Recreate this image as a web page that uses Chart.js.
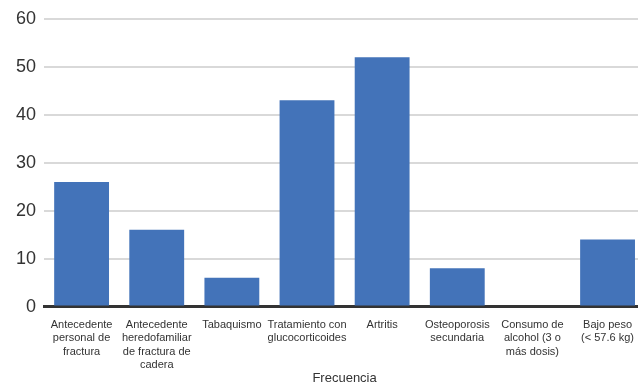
<!DOCTYPE html>
<html>
<head>
<meta charset="utf-8">
<script src="https://cdn.jsdelivr.net/npm/chart.js@4/dist/chart.umd.min.js"></script>
<style>
  html, body { margin: 0; padding: 0; background: #fff; }
  #wrap { width: 638px; height: 384px; position: relative; overflow: hidden; }
  #inner { width: 646px; height: 384px; position: absolute; left: 0; top: 0; }
</style>
</head>
<body>
<div id="wrap"><div id="inner"><canvas id="chart"></canvas></div></div>
<script>
// Factores de riesgo (cada etiqueta dividida en líneas)
const categories = [
  ["Antecedente", "personal de", "fractura"],
  ["Antecedente", "heredofamiliar", "de fractura de", "cadera"],
  ["Tabaquismo"],
  ["Tratamiento con", "glucocorticoides"],
  ["Artritis"],
  ["Osteoporosis", "secundaria"],
  ["Consumo de", "alcohol (3 o", "más dosis)"],
  ["Bajo peso", "(< 57.6 kg)"]
];
const frecuencia = [26, 16, 6, 43, 52, 8, 0, 14];
const yTicks = [0, 10, 20, 30, 40, 50, 60];
const xTitle = "Frecuencia";

new Chart(document.getElementById("chart"), {
  type: "bar",
  data: {
    labels: categories,
    datasets: [{
      label: xTitle,
      data: frecuencia,
      backgroundColor: "#4373b9",
      borderWidth: 0,
      categoryPercentage: 0.73,
      barPercentage: 1.0
    }]
  },
  options: {
    responsive: true,
    maintainAspectRatio: false,
    animation: false,
    layout: { padding: { top: 10, right: 0, left: 8, bottom: 0 } },
    plugins: { legend: { display: false }, tooltip: { enabled: false } },
    scales: {
      x: {
        grid: { display: false, drawTicks: false },
        border: { display: true, color: "#333333", width: 3 },
        ticks: {
          color: "#333333",
          font: { family: "Liberation Sans, Arial, sans-serif", size: 11, lineHeight: 1.2 },
          maxRotation: 0, minRotation: 0, autoSkip: false,
          padding: 12
        },
        title: {
          display: true, text: xTitle, color: "#333333",
          font: { family: "Liberation Sans, Arial, sans-serif", size: 13 },
          padding: { top: -13, bottom: -2 }
        }
      },
      y: {
        min: 0, max: 60,
        afterBuildTicks: (axis) => { axis.ticks = yTicks.map(v => ({ value: v })); },
        grid: { color: "#d9d9d9", lineWidth: 2, drawTicks: false },
        border: { display: false },
        ticks: {
          color: "#333333",
          font: { family: "Liberation Sans, Arial, sans-serif", size: 18 },
          padding: 8
        }
      }
    }
  }
});
</script>
</body>
</html>
